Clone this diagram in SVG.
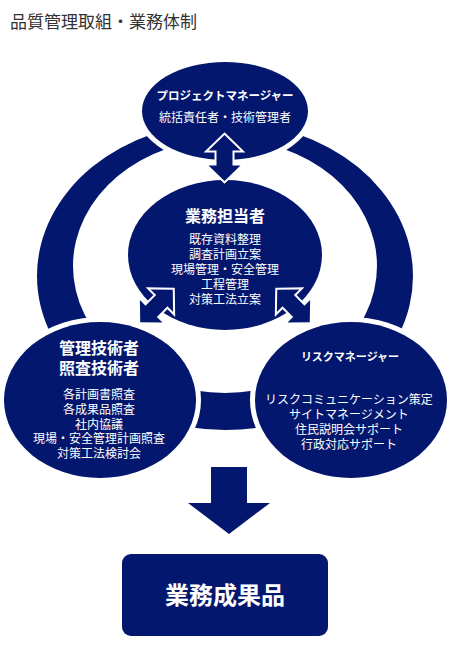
<svg xmlns="http://www.w3.org/2000/svg" width="449" height="649" viewBox="0 0 449 649">
<style>
.nv{fill:#03176e}
.el{fill:#03176e;stroke:#fff;stroke-width:10;paint-order:stroke}
.ar{fill:#03176e;stroke:#fff;stroke-width:4;stroke-linejoin:miter;paint-order:stroke}
text{font-family:"Noto Sans CJK JP","Noto Sans CJK SC",sans-serif;fill:#fff;text-anchor:middle}
.h{font-weight:bold}
.b{font-size:12px}
</style>
<defs>
<path id="dbl" d="M0,-23 L16,-7.5 L8,-7.5 L8,7.5 L16,7.5 L0,23 L-16,7.5 L-8,7.5 L-8,-7.5 L-16,-7.5 Z"/>
</defs>
<rect width="449" height="649" fill="#fff"/>
<text x="10" y="28" style="font-size:17px;fill:#333;text-anchor:start">品質管理取組・業務体制</text>
<g id="connectors">
<path class="nv" fill-rule="evenodd" d="M37,276 a188,154 0 1,0 376,0 a188,154 0 1,0 -376,0 Z M73,266 a152,127 0 1,0 304,0 a152,127 0 1,0 -304,0 Z"/>
</g>
<g id="node-top">
<ellipse class="el" cx="225" cy="111" rx="83" ry="49"/>
<text class="h" x="225" y="100" style="font-size:11.5px">プロジェクトマネージャー</text>
<text class="b" x="225" y="122">統括責任者・技術管理者</text>
</g>
<g id="node-middle">
<ellipse class="el" cx="225" cy="255" rx="97" ry="75"/>
<text class="h" x="225" y="222" style="font-size:16px">業務担当者</text>
<text class="b" x="225" y="244">既存資料整理</text>
<text class="b" x="225" y="259">調査計画立案</text>
<text class="b" x="225" y="274">現場管理・安全管理</text>
<text class="b" x="225" y="289">工程管理</text>
<text class="b" x="225" y="304">対策工法立案</text>
</g>
<g id="node-left">
<ellipse class="el" cx="100" cy="400" rx="96" ry="78"/>
<text class="h" x="99" y="354" style="font-size:16px">管理技術者</text>
<text class="h" x="99" y="374" style="font-size:16px">照査技術者</text>
<text class="b" x="99" y="399">各計画書照査</text>
<text class="b" x="99" y="414">各成果品照査</text>
<text class="b" x="99" y="429">社内協議</text>
<text class="b" x="99" y="443">現場・安全管理計画照査</text>
<text class="b" x="99" y="458">対策工法検討会</text>
</g>
<g id="node-right">
<ellipse class="el" cx="351" cy="400" rx="96" ry="78"/>
<text class="h" x="350" y="361" style="font-size:11px">リスクマネージャー</text>
<text class="b" x="349" y="404">リスクコミュニケーション策定</text>
<text class="b" x="349" y="419">サイトマネージメント</text>
<text class="b" x="349" y="434">住民説明会サポート</text>
<text class="b" x="349" y="449">行政対応サポート</text>
</g>
<g id="arrows">
<use href="#dbl" class="ar" transform="translate(224.5,158)"/>
<use href="#dbl" class="ar" transform="translate(156.5,306) rotate(45)"/>
<use href="#dbl" class="ar" transform="translate(293.5,306) rotate(-45)"/>
<path class="nv" d="M211,467 H247 V503 H270 L229,534 L188,503 H211 Z"/>
</g>
<g id="node-result">
<rect class="nv" x="122" y="554" width="206" height="82" rx="9"/>
<text class="h" x="225" y="604" style="font-size:24px">業務成果品</text>
</g>
</svg>
